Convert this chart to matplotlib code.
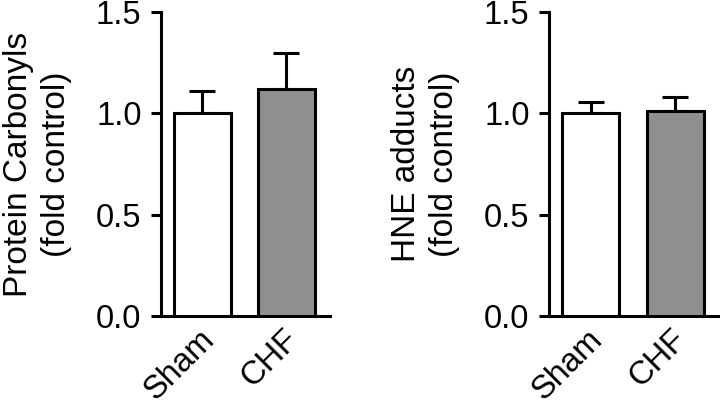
import matplotlib
matplotlib.use("Agg")
import matplotlib.pyplot as plt
from matplotlib.transforms import ScaledTranslation

groups = ["Sham", "CHF"]
carbonyl_mean = [1.00, 1.12]
carbonyl_sem = [0.11, 0.18]
hne_mean = [1.00, 1.01]
hne_sem = [0.055, 0.07]
bar_colors = ["#ffffff", "#8f8f8f"]
yticks = [0.0, 0.5, 1.0, 1.5]

plt.rcParams['font.family'] = ['Liberation Sans', 'DejaVu Sans']

fig = plt.figure(figsize=(7.2, 4.04), dpi=100)
W, H = 720, 404

def make_ax(x0, x1):
    return fig.add_axes([x0 / W, (H - 316) / H, (x1 - x0) / W, (316 - 12) / H])

panels = [
    (make_ax(161, 330), carbonyl_mean, carbonyl_sem, "Protein Carbonyls\n(fold control)"),
    (make_ax(549, 719), hne_mean, hne_sem, "HNE adducts\n(fold control)"),
]

lw = 2.2
shift = ScaledTranslation(-0.04, 0.03, fig.dpi_scale_trans)
for ax, means, sems, ylabel in panels:
    x = list(range(len(groups)))
    ax.bar(x, means, width=0.68, color=bar_colors, edgecolor="black", linewidth=lw, zorder=3)
    ax.errorbar(x, means, yerr=[[0] * len(sems), sems], fmt="none", ecolor="black",
                elinewidth=lw, capsize=9.5, capthick=lw, zorder=2)
    ax.set_xlim(-0.494, 1.518)
    ax.set_ylim(0, 1.5)
    ax.set_yticks(yticks)
    ax.set_yticklabels([f"{t:.1f}" for t in yticks])
    ax.set_xticks(x)
    ax.set_xticklabels(groups, rotation=45, ha="right", rotation_mode="anchor")
    ax.tick_params(axis="x", length=0, pad=8, labelsize=23.5)
    ax.tick_params(axis="y", length=7, width=lw, pad=7, labelsize=23.5)
    for lab in ax.get_xticklabels():
        lab.set_transform(lab.get_transform() + shift)
    for s in ["top", "right"]:
        ax.spines[s].set_visible(False)
    for s in ["left", "bottom"]:
        ax.spines[s].set_linewidth(lw)
    ax.set_ylabel(ylabel, fontsize=24, linespacing=1.3, labelpad=17)
    for sp in ax.spines.values():
        sp.set_clip_on(False)

fig.savefig("out.png", dpi=100)
